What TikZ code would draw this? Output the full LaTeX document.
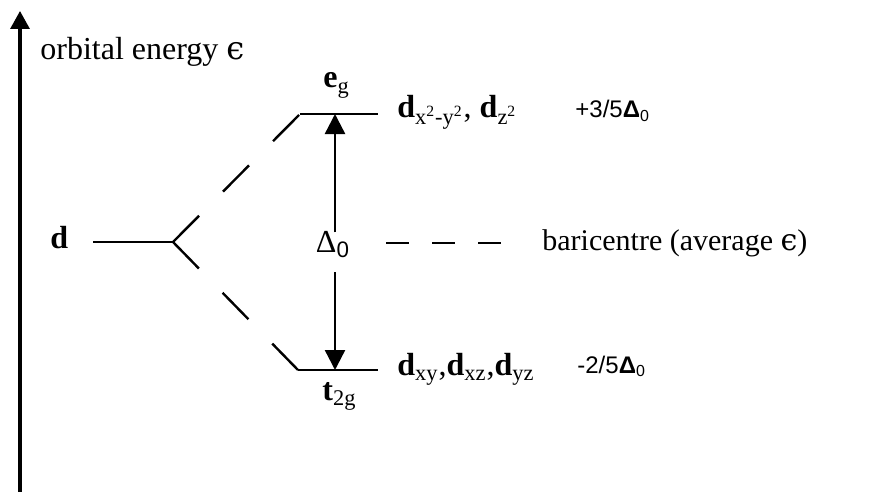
\documentclass[tikz,border=0pt]{standalone}
\usepackage{fontspec}
\setmainfont{Liberation Serif}
\newfontfamily\splitfont{Liberation Sans}
\newfontfamily\epsfont{DejaVu Serif}
\usepackage{tikz}
\usetikzlibrary{arrows.meta,positioning}

\newcommand{\eps}{{\epsfont\char"03F5}}

\begin{document}
\begin{tikzpicture}[x=0.5pt, y=-0.5pt,
    lvl/.style={line width=1.2pt},
    branch/.style={line width=1.2pt, dash pattern=on 18.5pt off 17pt},
    bary/.style={line width=1.2pt, dash pattern=on 11.5pt off 11.5pt},
    gap/.style={line width=1.2pt, -{Triangle[width=10pt,length=10pt]}},
    lbl/.style={inner sep=0pt, anchor=base west, font=\fontsize{16}{18}\selectfont},
    val/.style={inner sep=0pt, anchor=base west, font=\splitfont\fontsize{12}{14}\selectfont}
]
\useasboundingbox (0,0) rectangle (872,492);

% Energy axis
\coordinate (axbot) at (20,492);
\coordinate (axtop) at (20,11);
\draw[line width=1.6pt, -{Triangle[width=9.5pt,length=9pt]}] (axbot) -- (axtop);
\node[lbl] (axis) at (40,60) {orbital energy \eps};

% Free ion level
\node[lbl] (d) at (50,248) {\textbf{d}};
\coordinate (dL) at (93,242);
\coordinate (split) at (173,242);
\draw[lvl] (dL) -- (split);

% Split levels
\coordinate (egL) at (300,114);
\coordinate (egR) at (378,114);
\coordinate (tL) at (298,370);
\coordinate (tR) at (378,370);
\draw[lvl] (egL) -- (egR);
\draw[lvl] (tL) -- (tR);
\draw[branch] (split) -- (egL);
\draw[branch] (split) -- (tL);

\node[lbl] (eg) at (323,88) {\textbf{e}\textsubscript{g}};
\node[lbl] (t2g) at (322,400) {\textbf{t}\textsubscript{2g}};

% Splitting energy
\node[lbl, anchor=base] (delta) at (333,252) {Δ\textsubscript{\splitfont 0}};
\coordinate (egmid) at (335,114);
\coordinate (tmid) at (335,370);
\draw[gap] (delta.north -| egmid) ++(0,2) -- (egmid);
\draw[gap] (delta.base -| tmid) ++(0,20) -- (tmid);

% Baricentre
\coordinate (barL) at (386,243);
\coordinate (barR) at (502,243);
\draw[bary] (barL) -- (barR);
\node[lbl, anchor=base west, font=\fontsize{15}{17}\selectfont] (bar) at (542,250) {baricentre (average \eps)};

% Orbitals and energies
\node[lbl] (egorb) at (397,118) {\textbf{d}\textsubscript{x\textsuperscript{2}-y\textsuperscript{2}}, \textbf{d}\textsubscript{z\textsuperscript{2}}};
\node[lbl] (torb) at (397,375) {\textbf{d}\textsubscript{xy},\textbf{d}\textsubscript{xz},\textbf{d}\textsubscript{yz}};
\node[val] (egval) at (575,118) {+3/5\textbf{Δ}\textsubscript{0}};
\node[val] (tval) at (577,373) {-2/5\textbf{Δ}\textsubscript{0}};

\end{tikzpicture}
\end{document}
